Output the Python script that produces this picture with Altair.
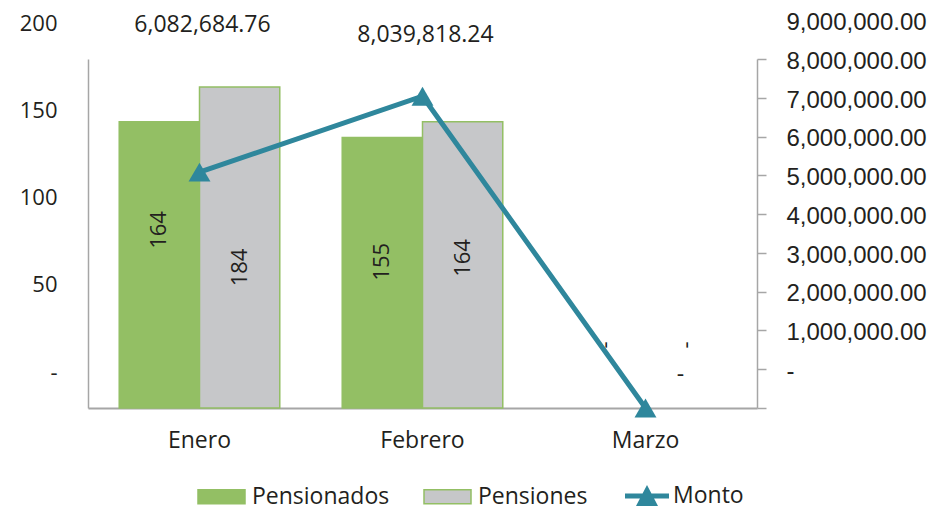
import altair as alt
import pandas as pd

# ---- data ----
meses = ["Enero", "Febrero", "Marzo"]
series = ["Pensionados", "Pensiones"]
pensionados = [164, 155, 0]
pensiones = [184, 164, 0]
monto = [6082684.76, 8039818.24, 0]
monto_txt = ["6,082,684.76", "8,039,818.24", "-"]
ticks_left = [0, 50, 100, 150, 200]
ticks_right = [0, 1000000, 2000000, 3000000, 4000000, 5000000,
               6000000, 7000000, 8000000, 9000000]

GREEN = "#93bf64"
GRAY = "#c6c7c9"
TEAL = "#2f879c"
AXIS = "#a6a6a6"
TXT = "#231f20"
FONT = "Open Sans"

bars_df = pd.DataFrame({
    "mes": meses * 2,
    "serie": [series[0]] * 3 + [series[1]] * 3,
    "valor": pensionados + pensiones,
})
bars_df["etiqueta"] = bars_df["valor"].map(lambda v: "-" if v == 0 else str(v))
monto_df = pd.DataFrame({"mes": meses, "monto": monto, "etiqueta": monto_txt,
                         "serie": ["Monto"] * 3})

x_enc = alt.X("mes:N", sort=meses,
              scale=alt.Scale(paddingInner=0.28, paddingOuter=0.14),
              axis=alt.Axis(title=None, labelAngle=0, ticks=False, domainColor=AXIS,
                            domainWidth=2, labelFont=FONT, labelFontSize=23,
                            labelColor=TXT, labelPadding=21))
xoff = alt.XOffset("serie:N", sort=series,
                   scale=alt.Scale(paddingInner=0, paddingOuter=0))

left_axis = alt.Axis(title=None, values=ticks_left, orient="left",
                     labelExpr="datum.value == 0 ? '-' : datum.label",
                     grid=False, ticks=False, domainColor=AXIS, domainWidth=1.5,
                     labelFont=FONT, labelFontSize=22, labelColor=TXT,
                     labelPadding=31, labelOffset=-36)
left_scale = alt.Scale(domain=[0, 200], nice=False)

right_axis = alt.Axis(title=None, values=ticks_right, orient="right",
                      labelExpr="datum.value == 0 ? '-' : format(datum.value, ',.2f')",
                      grid=False, tickSize=9, tickColor=AXIS, tickWidth=1.5,
                      domainColor=AXIS, domainWidth=1.5, labelPadding=20,
                      labelOffset=-36.5, labelFont="Liberation Sans",
                      labelFontSize=24, labelColor=TXT)
right_scale = alt.Scale(domain=[0, 9000000], nice=False)

bar_legend = alt.Legend(title=None, orient="none", legendX=109, legendY=413,
                        direction="horizontal", symbolType="M-1,-0.3H1V0.3H-1Z",
                        symbolSize=2209, symbolStrokeWidth=1.5, labelFont=FONT,
                        labelFontSize=23, labelColor=TXT, labelOffset=6,
                        columnPadding=31, padding=0)

bars = alt.Chart(bars_df).transform_filter("datum.valor > 0").mark_bar(strokeWidth=1.5).encode(
    x=x_enc,
    xOffset=xoff,
    y=alt.Y("valor:Q", scale=left_scale, axis=left_axis),
    fill=alt.Fill("serie:N", scale=alt.Scale(domain=series, range=[GREEN, GRAY]),
                  legend=bar_legend),
    stroke=alt.Stroke("serie:N", scale=alt.Scale(domain=series, range=[GREEN, GREEN]),
                      legend=bar_legend),
)

# rotated value labels inside bars (dx moves along the rotated text direction = up)
bar_label_dx = {("Enero", "Pensionados"): 35, ("Enero", "Pensiones"): -20,
                ("Febrero", "Pensionados"): 11, ("Febrero", "Pensiones"): 7,
                ("Marzo", "Pensionados"): 63, ("Marzo", "Pensiones"): 63}
bar_texts = []
for (mes, serie), dx in bar_label_dx.items():
    bar_texts.append(
        alt.Chart(bars_df)
        .transform_filter(f"datum.mes == '{mes}' && datum.serie == '{serie}'")
        .transform_calculate(mid="datum.valor / 2")
        .mark_text(angle=270, align="center", baseline="middle", font=FONT,
                   fontSize=22, color=TXT, dx=dx)
        .encode(x=x_enc, xOffset=xoff,
                y=alt.Y("mid:Q", scale=left_scale, axis=left_axis),
                text="etiqueta:N")
    )

left = alt.layer(bars, *bar_texts)

line = alt.Chart(monto_df).mark_line(color=TEAL, strokeWidth=5).encode(
    x=x_enc,
    y=alt.Y("monto:Q", scale=right_scale, axis=right_axis),
)
points = alt.Chart(monto_df).mark_point(filled=True, shape="triangle-up", size=480,
                                        opacity=1).encode(
    x=x_enc,
    y=alt.Y("monto:Q", scale=right_scale, axis=right_axis),
    color=alt.Color("serie:N", scale=alt.Scale(domain=["Monto"], range=[TEAL]),
                    legend=alt.Legend(title=None, orient="none", legendX=537,
                                      legendY=415, direction="horizontal",
                                      symbolType="M-1,-0.11H1V0.11H-1Z M-0.5,0.45L0,-0.5L0.5,0.45Z",
                                      symbolSize=1936, symbolStrokeWidth=0,
                                      symbolFillColor=TEAL,
                                      labelFont=FONT, labelFontSize=23,
                                      labelColor=TXT, labelOffset=4, padding=0)),
)

monto_offsets = {"Enero": (3, -147), "Febrero": (3, -61), "Marzo": (35, -33)}
monto_texts = []
for mes, (dx, dy) in monto_offsets.items():
    monto_texts.append(
        alt.Chart(monto_df)
        .transform_filter(f"datum.mes == '{mes}'")
        .mark_text(align="center", baseline="middle", font=FONT, fontSize=23,
                   color=TXT, dx=dx, dy=dy)
        .encode(x=x_enc,
                y=alt.Y("monto:Q", scale=right_scale, axis=right_axis),
                text="etiqueta:N")
    )

right = alt.layer(line, points, *monto_texts)

chart = alt.layer(left, right).resolve_scale(y="independent").properties(
    width=669, height=349,
    autosize=alt.AutoSizeParams(type="none"),
    padding={"left": 80, "top": 51, "right": 176, "bottom": 104},
).configure_view(stroke=None)

chart.save("out.html", embed_options={"renderer": "svg", "actions": False})
